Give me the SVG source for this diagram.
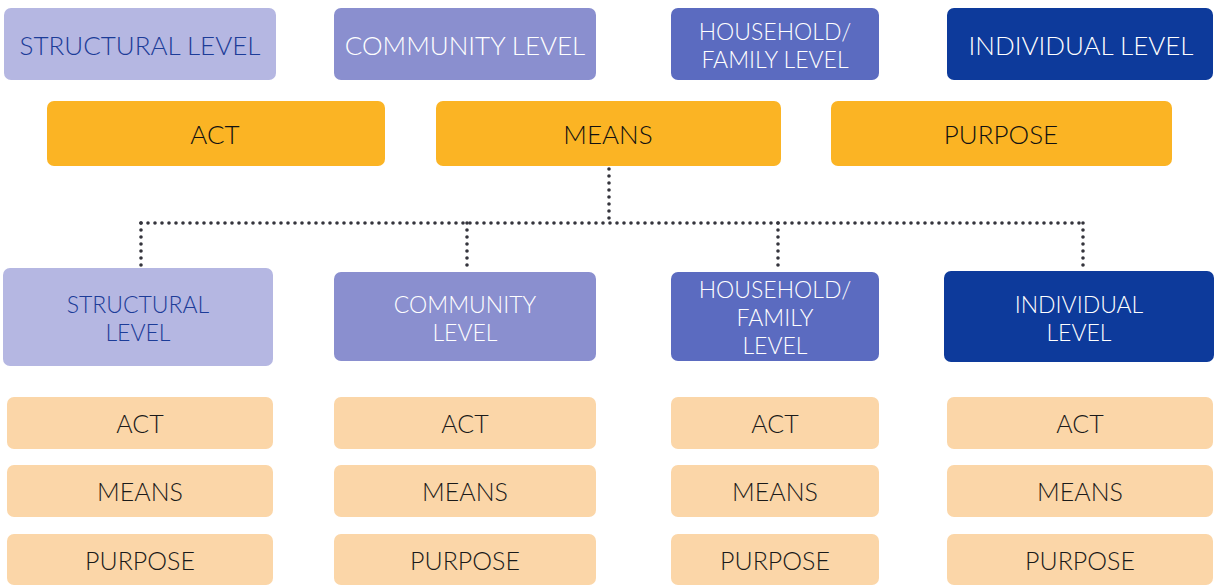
<svg xmlns="http://www.w3.org/2000/svg" width="1217" height="586" viewBox="0 0 1217 586">
<style>
text{font-family:Lato,"Open Sans","Liberation Sans",sans-serif;font-size:26px;font-weight:300;text-anchor:middle;dominant-baseline:central}
.m{font-size:23px}
.s{fill:#b5b7e2}.c{fill:#8a8fcf}.h{fill:#5b6bc0}.i{fill:#0d3a9b}
.o{fill:#fbb424}.p{fill:#fbd6a8}
.ts{fill:#1c3c98}.tw{fill:#ffffff}.tk{fill:#111111}.tb{fill:#1a1a1a;font-size:25px}
.dot{fill:none;stroke:#34343c;stroke-width:3.6;stroke-linecap:round;stroke-dasharray:0 7}
</style>
<rect width="1217" height="586" fill="#ffffff"/>
<g id="connectors">
<path class="dot" d="M609 169V223"/>
<path class="dot" d="M141 223H1083"/>
<path class="dot" d="M141 223V266"/>
<path class="dot" d="M467 223V270"/>
<path class="dot" d="M778 223V270"/>
<path class="dot" d="M1083 223V269"/>
</g>
<g id="top-structural"><rect class="s" x="4" y="8" width="272" height="72" rx="7"/><text class="ts" x="140" y="45">STRUCTURAL LEVEL</text></g>
<g id="top-community"><rect class="c" x="334" y="8" width="262" height="72" rx="7"/><text class="tw" x="465" y="45">COMMUNITY LEVEL</text></g>
<g id="top-household"><rect class="h" x="671" y="8" width="208" height="72" rx="7"/><text class="tw m" x="775" y="31">HOUSEHOLD/</text><text class="tw m" x="775" y="59">FAMILY LEVEL</text></g>
<g id="top-individual"><rect class="i" x="947" y="8" width="266" height="72" rx="7"/><text class="tw" x="1081" y="45">INDIVIDUAL LEVEL</text></g>
<g id="act"><rect class="o" x="47" y="101" width="338" height="65" rx="7"/><text class="tk" x="215" y="134">ACT</text></g>
<g id="means"><rect class="o" x="436" y="101" width="345" height="65" rx="7"/><text class="tk" x="608" y="134">MEANS</text></g>
<g id="purpose"><rect class="o" x="831" y="101" width="341" height="65" rx="7"/><text class="tk" x="1001" y="134">PURPOSE</text></g>
<g id="structural"><rect class="s" x="3" y="268" width="270" height="98" rx="7"/><text class="ts m" x="138" y="304">STRUCTURAL</text><text class="ts m" x="138" y="332">LEVEL</text></g>
<g id="community"><rect class="c" x="334" y="272" width="262" height="89" rx="7"/><text class="tw m" x="465" y="304">COMMUNITY</text><text class="tw m" x="465" y="332">LEVEL</text></g>
<g id="household"><rect class="h" x="671" y="272" width="208" height="89" rx="7"/><text class="tw m" x="775" y="289">HOUSEHOLD/</text><text class="tw m" x="775" y="317">FAMILY</text><text class="tw m" x="775" y="345">LEVEL</text></g>
<g id="individual"><rect class="i" x="944" y="271" width="270" height="91" rx="7"/><text class="tw m" x="1079" y="304">INDIVIDUAL</text><text class="tw m" x="1079" y="332">LEVEL</text></g>
<g id="s-act"><rect class="p" x="7" y="397" width="266" height="52" rx="7"/><text class="tb" x="140" y="423">ACT</text></g>
<g id="s-means"><rect class="p" x="7" y="465" width="266" height="52" rx="7"/><text class="tb" x="140" y="491">MEANS</text></g>
<g id="s-purpose"><rect class="p" x="7" y="534" width="266" height="51" rx="7"/><text class="tb" x="140" y="560">PURPOSE</text></g>
<g id="c-act"><rect class="p" x="334" y="397" width="262" height="52" rx="7"/><text class="tb" x="465" y="423">ACT</text></g>
<g id="c-means"><rect class="p" x="334" y="465" width="262" height="52" rx="7"/><text class="tb" x="465" y="491">MEANS</text></g>
<g id="c-purpose"><rect class="p" x="334" y="534" width="262" height="51" rx="7"/><text class="tb" x="465" y="560">PURPOSE</text></g>
<g id="h-act"><rect class="p" x="671" y="397" width="208" height="52" rx="7"/><text class="tb" x="775" y="423">ACT</text></g>
<g id="h-means"><rect class="p" x="671" y="465" width="208" height="52" rx="7"/><text class="tb" x="775" y="491">MEANS</text></g>
<g id="h-purpose"><rect class="p" x="671" y="534" width="208" height="51" rx="7"/><text class="tb" x="775" y="560">PURPOSE</text></g>
<g id="i-act"><rect class="p" x="947" y="397" width="266" height="52" rx="7"/><text class="tb" x="1080" y="423">ACT</text></g>
<g id="i-means"><rect class="p" x="947" y="465" width="266" height="52" rx="7"/><text class="tb" x="1080" y="491">MEANS</text></g>
<g id="i-purpose"><rect class="p" x="947" y="534" width="266" height="51" rx="7"/><text class="tb" x="1080" y="560">PURPOSE</text></g>
</svg>
